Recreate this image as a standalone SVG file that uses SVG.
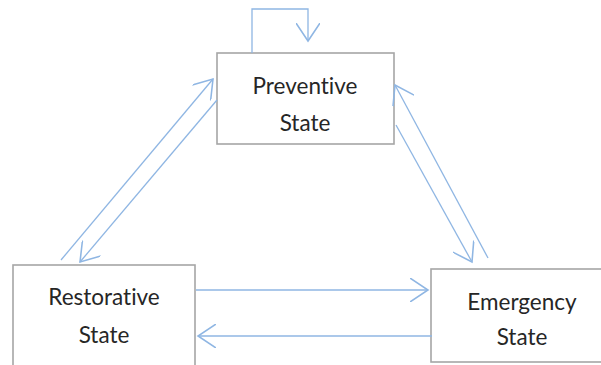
<svg xmlns="http://www.w3.org/2000/svg" width="601" height="365" viewBox="0 0 601 365">
<style>
.box{fill:#fff;stroke:#a6a6a6;stroke-width:1.6}
.lbl{font-family:Lato,"Open Sans",sans-serif;font-size:22.5px;fill:#262626;text-anchor:middle;font-variant-ligatures:none}
.c{fill:none;stroke:#8fb6e3;stroke-width:1.3}
</style>
<defs>
<marker id="ah" markerUnits="userSpaceOnUse" markerWidth="20" markerHeight="24" refX="15" refY="10" viewBox="0 0 16 20" orient="auto">
<path d="M0,0 L15,10 L0,20" fill="none" stroke="#8fb6e3" stroke-width="1.3"/>
</marker>
</defs>
<rect width="601" height="365" fill="#fff"/>
<g id="preventive">
<rect class="box" x="217" y="53" width="177" height="91"/>
<text class="lbl" x="305" y="94">Preventive</text>
<text class="lbl" x="305" y="131">State</text>
</g>
<g id="restorative">
<rect class="box" x="13" y="265" width="182" height="110"/>
<text class="lbl" x="104" y="305">Restorative</text>
<text class="lbl" x="104" y="343">State</text>
</g>
<g id="emergency">
<rect class="box" x="431" y="269" width="180" height="93"/>
<text class="lbl" x="522" y="310">Emergency</text>
<text class="lbl" x="522" y="345">State</text>
</g>
<g id="connectors">
<path class="c" d="M252,53 L252,9 L308,9 L308,41" marker-end="url(#ah)"/>
<line class="c" x1="61" y1="260" x2="213" y2="79" marker-end="url(#ah)"/>
<line class="c" x1="217" y1="100" x2="80" y2="262" marker-end="url(#ah)"/>
<line class="c" x1="488" y1="258" x2="395" y2="85" marker-end="url(#ah)"/>
<line class="c" x1="396" y1="125" x2="472" y2="262" marker-end="url(#ah)"/>
<line class="c" x1="196" y1="290" x2="428" y2="290" marker-end="url(#ah)"/>
<line class="c" x1="432" y1="336" x2="198" y2="336" marker-end="url(#ah)"/>
</g>
</svg>
